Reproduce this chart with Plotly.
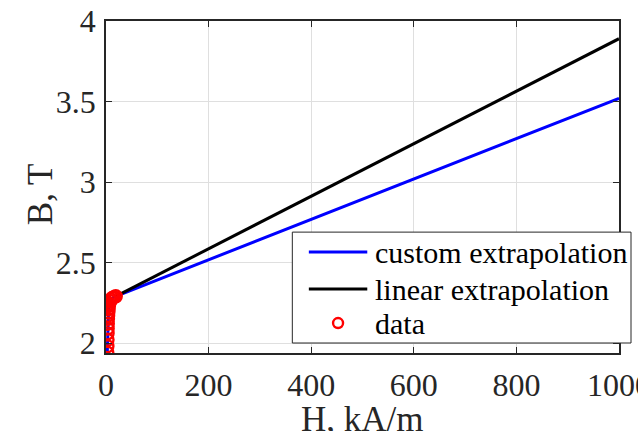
import plotly.graph_objects as go

# Measured B-H points (H in kA/m, B in T)
H_data = [2.5, 2.7, 2.9, 3.1, 3.3, 3.5, 3.8, 4.1, 4.5, 5.0, 5.6, 6.5, 8.0, 10.0, 12.5, 15.5, 19.0]
B_data = [1.94, 1.98, 2.02, 2.06, 2.09, 2.12, 2.15, 2.17, 2.19, 2.21, 2.23, 2.245, 2.26, 2.27, 2.28, 2.285, 2.29]

# Custom extrapolation: follows the data, then rises with slope mu0 up to 1000 kA/m
H_custom = H_data + [1000]
B_custom = B_data + [3.52]

# Linear extrapolation from the last data point
H_linear = [19.0, 1000]
B_linear = [2.29, 3.89]

x_ticks = [0, 200, 400, 600, 800, 1000]
y_ticks = [2, 2.5, 3, 3.5, 4]

FONT = "Liberation Serif"
AX = "#262626"
BLUE, BLACK, RED = "#0000ff", "#000000", "#ff0000"

fig = go.Figure()
fig.add_trace(go.Scatter(x=H_custom, y=B_custom, mode="lines", name="custom extrapolation",
                         line=dict(color=BLUE, width=3), showlegend=False))
fig.add_trace(go.Scatter(x=H_linear, y=B_linear, mode="lines", name="linear extrapolation",
                         line=dict(color=BLACK, width=3), showlegend=False))
fig.add_trace(go.Scatter(x=H_data, y=B_data, mode="markers", name="data", showlegend=False,
                         marker=dict(symbol="circle-open", size=12, color=RED,
                                     line=dict(width=2.4, color=RED))))

axis_common = dict(showline=True, linecolor=AX, linewidth=1.5, mirror="ticks",
                   ticks="inside", ticklen=6, tickwidth=1.2, tickcolor=AX,
                   showgrid=True, gridcolor="#dfdfdf", gridwidth=1, zeroline=False,
                   tickfont=dict(family=FONT, size=32, color=AX), automargin=False,
                   ticklabeloverflow="allow")

fig.update_xaxes(range=[0, 1000], tickvals=x_ticks, ticktext=[str(v) for v in x_ticks],
                 ticklabelstandoff=3, **axis_common)
fig.update_yaxes(range=[1.938, 4], tickvals=y_ticks, ticktext=["2", "2.5", "3", "3.5", "4"],
                 ticklabelstandoff=2, **axis_common)

# Legend box drawn in paper coordinates (it sticks out past the right axis)
box = dict(x0=0.3632, x1=1.0234, y0=0.0301, y1=0.3641)
sample_x0, sample_x1, text_x = 0.3954, 0.5093, 0.5209
rows = [0.3039, 0.1926, 0.0903]
labels = ["custom extrapolation", "linear extrapolation", "data"]

shapes = [dict(type="rect", xref="paper", yref="paper", layer="above",
               fillcolor="white", line=dict(color=AX, width=1), **box)]
for y, color in zip(rows[:2], [BLUE, BLACK]):
    shapes.append(dict(type="line", xref="paper", yref="paper", layer="above",
                       x0=sample_x0, x1=sample_x1, y0=y, y1=y,
                       line=dict(color=color, width=3)))
shapes.append(dict(type="circle", xref="paper", yref="paper", layer="above",
                   xsizemode="pixel", ysizemode="pixel",
                   xanchor=(sample_x0 + sample_x1) / 2, yanchor=rows[2],
                   x0=-5, x1=5, y0=-5, y1=5, line=dict(color=RED, width=2.4)))

annotations = [dict(text=t, xref="paper", yref="paper", x=text_x, y=y,
                    xanchor="left", yanchor="middle", showarrow=False,
                    font=dict(family=FONT, size=30, color=BLACK))
               for t, y in zip(labels, rows)]
annotations += [
    dict(text="H, kA/m", xref="paper", yref="paper", x=0.5, y=-0.2016,
         xanchor="center", yanchor="middle", showarrow=False,
         font=dict(family=FONT, size=35, color=AX)),
    dict(text="B, T", xref="paper", yref="paper", x=-0.1276, y=0.477,
         xanchor="center", yanchor="middle", showarrow=False, textangle=-90,
         font=dict(family=FONT, size=35, color=AX)),
]

fig.update_layout(
    width=638, height=431,
    margin=dict(l=105.5, r=19, t=21, b=78, pad=0),
    plot_bgcolor="white", paper_bgcolor="white",
    font=dict(family=FONT, color=AX),
    showlegend=False,
    shapes=shapes,
    annotations=annotations,
)

fig.write_html("out.html")
